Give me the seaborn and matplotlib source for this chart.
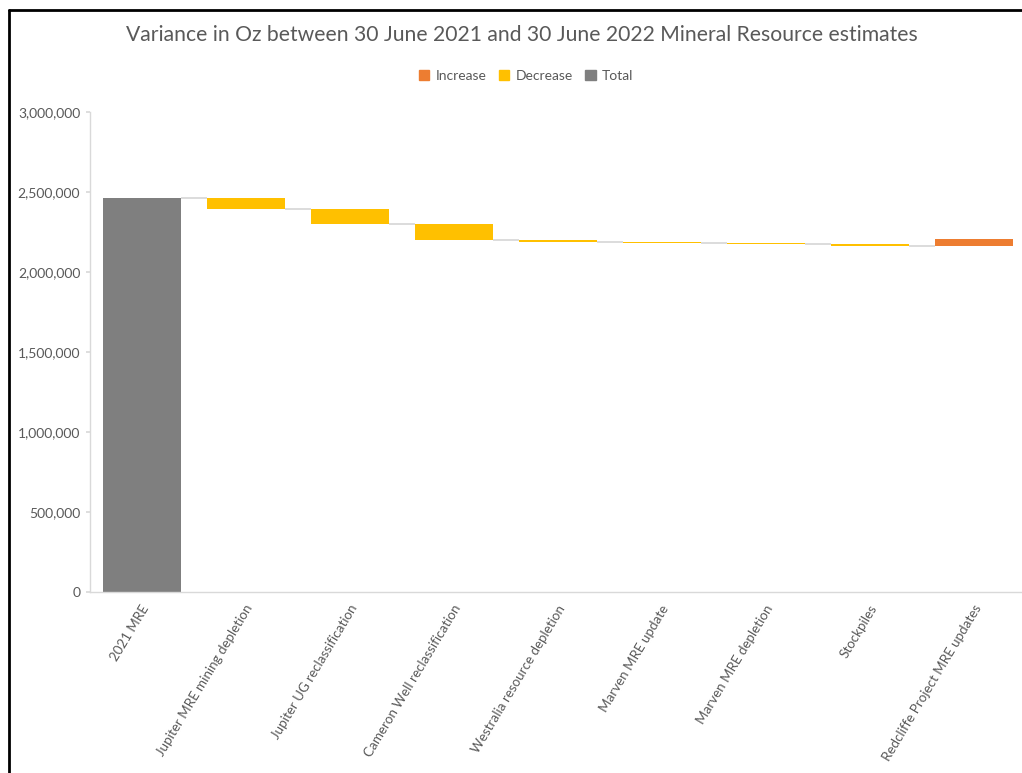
import matplotlib
matplotlib.use("Agg")
import matplotlib.pyplot as plt
import seaborn as sns
import numpy as np
import pandas as pd
from matplotlib.lines import Line2D
from matplotlib.patches import Patch
from matplotlib.ticker import FuncFormatter
from matplotlib.transforms import ScaledTranslation

# ---- data ----
categories = ["2021 MRE", "Jupiter MRE mining depletion", "Jupiter UG reclassification",
              "Cameron Well reclassification", "Westralia resource depletion",
              "Marven MRE update", "Marven MRE depletion", "Stockpiles",
              "Redcliffe Project MRE updates"]
changes = [2464000, -72000, -90000, -104000, -12000, -7000, -4000, -12000, 42000]
kinds = ["Total", "Decrease", "Decrease", "Decrease", "Decrease", "Decrease",
         "Decrease", "Decrease", "Increase"]
legend_labels = ["Increase", "Decrease", "Total"]
y_ticks = [0, 500000, 1000000, 1500000, 2000000, 2500000, 3000000]
title = "Variance in Oz between 30 June 2021 and 30 June 2022 Mineral Resource estimates"

palette = {"Increase": "#ED7D31", "Decrease": "#FFC000", "Total": "#7F7F7F"}

# waterfall geometry derived from the changes
ends = np.cumsum(changes)
starts = np.concatenate([[0], ends[:-1]])
bottoms = np.minimum(starts, ends)
heights = np.abs(np.array(changes))

df = pd.DataFrame({"cat": categories, "height": heights})

sns.set_theme(style="white")
plt.rcParams["font.family"] = ["Lato", "DejaVu Sans"]
text_gray = "#595959"
line_gray = "#D9D9D9"

fig = plt.figure(figsize=(10.22, 7.73), dpi=100)
ax = fig.add_axes([90 / 1022, 1 - 592 / 773, 1 - 90 / 1022, (592 - 112) / 773])

bw = 0.75
sns.barplot(data=df, x="cat", y="height", order=categories, bottom=bottoms,
            width=bw, errorbar=None, ax=ax, linewidth=0, color="#7F7F7F", saturation=1)
for patch, k in zip(ax.patches, kinds):
    patch.set_facecolor(palette[k])
    patch.set_edgecolor(palette[k])

# connectors
for i in range(len(categories) - 1):
    ax.hlines(ends[i], i + bw / 2, i + 1 - bw / 2, color=line_gray, lw=1.3, zorder=1)

ax.set_xlim(-0.5, 8.46)
ax.set_ylim(0, 3000000)
ax.set_yticks(y_ticks)
ax.yaxis.set_major_formatter(FuncFormatter(lambda v, p: f"{int(v):,}"))
ax.set_xlabel("")
ax.set_ylabel("")

for s in ["top", "right"]:
    ax.spines[s].set_visible(False)
for s in ["left", "bottom"]:
    ax.spines[s].set_color(line_gray)
    ax.spines[s].set_linewidth(1)

ax.tick_params(axis="y", left=True, length=3, color=line_gray, labelsize=10,
               labelcolor=text_gray, pad=4)
ax.tick_params(axis="x", bottom=False, length=0, labelsize=9.6, labelcolor=text_gray, pad=10)
ax.set_xticks(range(len(categories)))
ax.set_xticklabels(categories, rotation=59, ha="right", va="center", rotation_mode="anchor")
for lab in ax.get_xticklabels():
    lab.set_transform(lab.get_transform() + ScaledTranslation(4 / 100, 0, fig.dpi_scale_trans))

fig.text(0.5 * (127 + 916) / 1022, 1 - 35 / 773, title, ha="center", va="center",
         fontsize=15.2, color=text_gray)

handles = [Patch(facecolor=palette[k], edgecolor=palette[k]) for k in legend_labels]
fig.legend(handles, legend_labels, loc="center", bbox_to_anchor=(526 / 1022, 1 - 76 / 773),
           ncol=3, frameon=False, fontsize=10, labelcolor=text_gray,
           handlelength=0.75, handleheight=0.75, columnspacing=0.9, handletextpad=0.45)

# screenshot border (left and top)
fig.add_artist(Line2D([9 / 1022, 9 / 1022], [0, 1 - 10 / 773], transform=fig.transFigure,
                      color="black", lw=2))
fig.add_artist(Line2D([9 / 1022, 1], [1 - 10 / 773, 1 - 10 / 773], transform=fig.transFigure,
                      color="black", lw=2))

fig.savefig("out.png", dpi=100, facecolor="white")
